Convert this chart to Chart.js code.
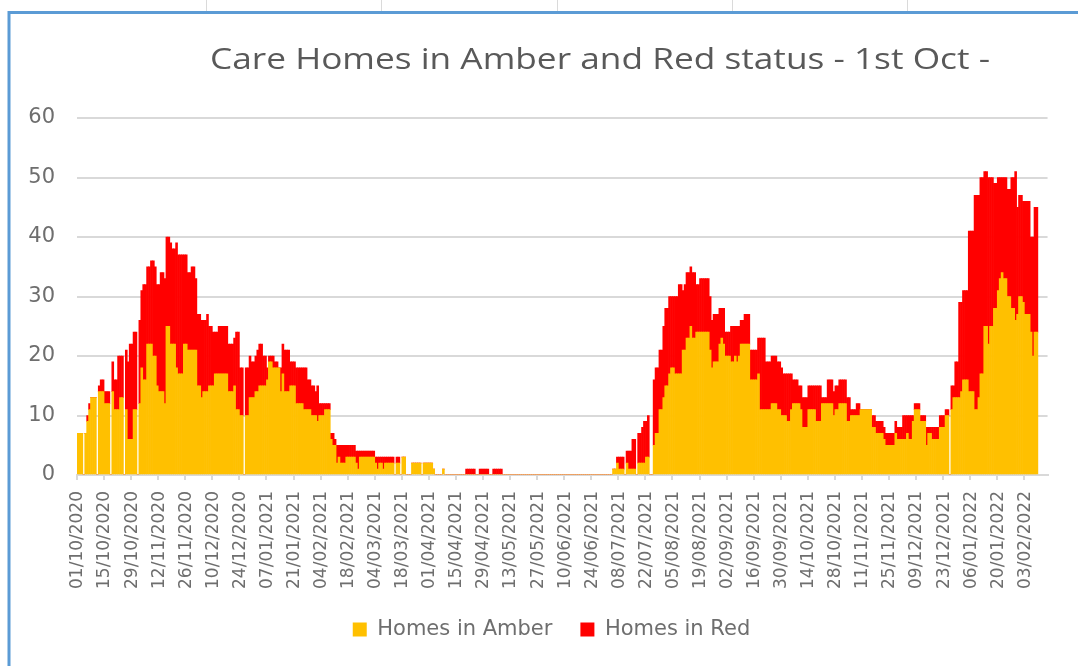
<!DOCTYPE html>
<html lang="en">
<head>
<meta charset="UTF-8">
<title>Care Homes in Amber and Red status</title>
<script src="https://cdn.jsdelivr.net/npm/chart.js"></script>
<style>
  html, body { margin: 0; padding: 0; background: #fff; }
  #box { width: 1078px; height: 666px; position: relative; }
</style>
</head>
<body>
<div id="box"><canvas id="grafico"></canvas></div>
<script>
// one bar per day from 1st Oct 2020
const startDate = Date.UTC(2020, 9, 1)
const totalDays = 502
const chartTitle = 'Care Homes in Amber and Red status - 1st Oct -'

const tickLabels = [
  '01/10/2020', '15/10/2020', '29/10/2020', '12/11/2020', '26/11/2020', '10/12/2020',
  '24/12/2020', '07/01/2021', '21/01/2021', '04/02/2021', '18/02/2021', '04/03/2021',
  '18/03/2021', '01/04/2021', '15/04/2021', '29/04/2021', '13/05/2021', '27/05/2021',
  '10/06/2021', '24/06/2021', '08/07/2021', '22/07/2021', '05/08/2021', '19/08/2021',
  '02/09/2021', '16/09/2021', '30/09/2021', '14/10/2021', '28/10/2021', '11/11/2021',
  '25/11/2021', '09/12/2021', '23/12/2021', '06/01/2022', '20/01/2022', '03/02/2022'
]

const amber = [
  7, 7, 7, 0, 7, 9, 11, 13, 13, 13,
  0, 14, 14, 14, 12, 12, 12, 0, 14, 11,
  11, 11, 13, 13, 0, 11, 6, 6, 6, 11,
  11, 0, 12, 18, 16, 16, 22, 22, 22, 20,
  20, 15, 14, 14, 14, 12, 25, 25, 22, 22,
  22, 18, 17, 17, 17, 22, 22, 21, 21, 21,
  21, 21, 15, 15, 13, 14, 14, 14, 15, 15,
  15, 17, 17, 17, 17, 17, 17, 17, 14, 14,
  14, 15, 11, 11, 10, 10, 0, 10, 10, 13,
  13, 13, 14, 14, 15, 15, 15, 15, 16, 19,
  19, 18, 18, 18, 18, 14, 17, 14, 14, 14,
  15, 15, 15, 12, 12, 12, 12, 11, 11, 11,
  11, 10, 10, 10, 9, 10, 10, 10, 11, 11,
  11, 6, 5, 5, 2, 3, 2, 2, 2, 3,
  3, 3, 3, 3, 2, 1, 3, 3, 3, 3,
  3, 3, 3, 3, 2, 1, 2, 2, 1, 2,
  2, 2, 2, 2, 0, 2, 2, 0, 3, 3,
  0, 0, 0, 2, 2, 2, 2, 2, 0, 2,
  2, 2, 2, 2, 1, 0, 0, 0, 0, 1,
  0, 0, 0, 0, 0, 0, 0, 0, 0, 0,
  0, 0, 0, 0, 0, 0, 0, 0, 0, 0,
  0, 0, 0, 0, 0, 0, 0, 0, 0, 0,
  0, 0, 0, 0, 0, 0, 0, 0, 0, 0,
  0, 0, 0, 0, 0, 0, 0, 0, 0, 0,
  0, 0, 0, 0, 0, 0, 0, 0, 0, 0,
  0, 0, 0, 0, 0, 0, 0, 0, 0, 0,
  0, 0, 0, 0, 0, 0, 0, 0, 0, 0,
  0, 0, 0, 0, 0, 0, 0, 1, 1, 2,
  1, 1, 1, 0, 2, 1, 1, 1, 1, 0,
  2, 2, 2, 2, 3, 3, 0, 0, 5, 7,
  7, 11, 11, 13, 15, 15, 17, 18, 18, 17,
  17, 17, 17, 21, 21, 23, 23, 25, 23, 23,
  24, 24, 24, 24, 24, 24, 24, 21, 18, 19,
  19, 19, 22, 23, 22, 20, 20, 20, 19, 19,
  20, 19, 20, 22, 22, 22, 22, 22, 16, 16,
  16, 16, 17, 11, 11, 11, 11, 11, 11, 12,
  12, 12, 11, 11, 10, 10, 10, 9, 9, 11,
  12, 12, 12, 12, 11, 8, 8, 8, 11, 11,
  11, 11, 9, 9, 9, 12, 12, 12, 12, 12,
  12, 10, 11, 11, 12, 12, 12, 12, 9, 9,
  10, 10, 10, 10, 10, 11, 11, 11, 11, 11,
  11, 8, 8, 7, 7, 7, 7, 6, 5, 5,
  5, 5, 5, 7, 6, 6, 6, 6, 6, 7,
  6, 6, 9, 11, 11, 11, 9, 9, 9, 5,
  7, 7, 6, 6, 6, 6, 8, 8, 8, 10,
  10, 0, 11, 13, 13, 13, 13, 14, 16, 16,
  16, 14, 14, 14, 11, 11, 13, 17, 17, 25,
  25, 22, 25, 25, 28, 28, 31, 33, 34, 33,
  33, 30, 30, 28, 28, 26, 27, 30, 30, 29,
  27, 27, 27, 24, 20, 24, 24
]

const red = [
  0, 0, 0, 0, 0, 1, 1, 0, 0, 0,
  0, 1, 2, 2, 2, 2, 2, 0, 5, 5,
  5, 9, 7, 7, 0, 10, 13, 16, 16, 13,
  13, 0, 14, 13, 16, 16, 13, 13, 14, 16,
  15, 17, 18, 20, 20, 21, 15, 15, 17, 16,
  16, 21, 20, 20, 20, 15, 15, 13, 13, 14,
  14, 12, 12, 12, 13, 12, 12, 13, 10, 10,
  9, 7, 7, 8, 8, 8, 8, 8, 8, 8,
  8, 8, 13, 13, 8, 8, 0, 8, 8, 7,
  6, 6, 6, 7, 7, 7, 5, 5, 2, 1,
  1, 2, 1, 1, 0, 4, 5, 7, 7, 7,
  4, 4, 4, 6, 6, 6, 6, 7, 7, 5,
  5, 5, 5, 4, 6, 2, 2, 2, 1, 1,
  1, 1, 2, 1, 3, 2, 3, 3, 3, 2,
  2, 2, 2, 2, 2, 3, 1, 1, 1, 1,
  1, 1, 1, 1, 1, 2, 1, 1, 2, 1,
  1, 1, 1, 1, 0, 1, 1, 0, 0, 0,
  0, 0, 0, 0, 0, 0, 0, 0, 0, 0,
  0, 0, 0, 0, 0, 0, 0, 0, 0, 0,
  0, 0, 0, 0, 0, 0, 0, 0, 0, 0,
  0, 1, 1, 1, 1, 1, 0, 0, 1, 1,
  1, 1, 1, 0, 0, 1, 1, 1, 1, 1,
  0, 0, 0, 0, 0, 0, 0, 0, 0, 0,
  0, 0, 0, 0, 0, 0, 0, 0, 0, 0,
  0, 0, 0, 0, 0, 0, 0, 0, 0, 0,
  0, 0, 0, 0, 0, 0, 0, 0, 0, 0,
  0, 0, 0, 0, 0, 0, 0, 0, 0, 0,
  0, 0, 0, 0, 0, 0, 0, 0, 0, 1,
  2, 2, 2, 0, 2, 3, 3, 5, 5, 0,
  5, 5, 6, 7, 6, 7, 0, 0, 11, 11,
  11, 10, 10, 12, 13, 13, 13, 12, 12, 13,
  13, 15, 15, 10, 11, 11, 11, 10, 11, 11,
  8, 8, 9, 9, 9, 9, 9, 9, 8, 8,
  8, 8, 6, 5, 6, 4, 4, 4, 6, 6,
  5, 6, 5, 4, 4, 5, 5, 5, 5, 5,
  5, 5, 6, 12, 12, 12, 8, 8, 8, 8,
  8, 8, 8, 8, 8, 7, 7, 8, 8, 6,
  4, 4, 4, 3, 4, 5, 5, 5, 4, 4,
  4, 4, 6, 6, 6, 1, 1, 1, 4, 4,
  4, 4, 4, 4, 4, 4, 4, 4, 4, 4,
  1, 1, 1, 2, 2, 0, 0, 0, 0, 0,
  0, 2, 2, 2, 2, 2, 2, 2, 2, 2,
  2, 2, 2, 2, 2, 2, 2, 4, 4, 3,
  4, 4, 1, 1, 1, 1, 1, 1, 1, 3,
  1, 1, 2, 2, 2, 2, 2, 2, 2, 1,
  1, 0, 4, 2, 6, 6, 16, 15, 15, 15,
  15, 27, 27, 27, 36, 36, 34, 33, 33, 26,
  26, 28, 25, 25, 21, 21, 19, 17, 16, 17,
  17, 18, 18, 22, 22, 25, 18, 17, 17, 17,
  19, 19, 19, 16, 20, 21, 21
]

const twoDigits = n => String(n).padStart(2, '0')
const days = []
for (let i = 0; i < totalDays; i++) {
  const d = new Date(startDate + i * 86400000)
  days.push(twoDigits(d.getUTCDate()) + '/' + twoDigits(d.getUTCMonth() + 1) + '/' + d.getUTCFullYear())
}

const textGrey = '#6e6e6e'

// spreadsheet frame + title, drawn around the chart
const frame = {
  id: 'frame',
  afterLayout(chart) {
    // legend sits a little right of the middle in the original
    chart.legend.left += 25
    chart.legend.right += 25
  },
  beforeDraw(chart) {
    const c = chart.ctx
    c.save()
    c.fillStyle = '#ffffff'
    c.fillRect(0, 0, chart.width, chart.height)
    c.strokeStyle = '#dadada'
    c.lineWidth = 1
    ;[206, 381, 557, 732, 907].forEach(x => {
      c.beginPath(); c.moveTo(x + 0.5, 0); c.lineTo(x + 0.5, 11); c.stroke()
    })
    c.strokeStyle = '#5b9bd5'
    c.lineWidth = 3
    c.beginPath()
    c.moveTo(9, chart.height)
    c.lineTo(9, 12.5)
    c.lineTo(chart.width, 12.5)
    c.stroke()
    c.restore()
  },
  afterDraw(chart) {
    const c = chart.ctx
    c.save()
    c.font = '30px "Open Sans"'
    c.fillStyle = '#595959'
    c.textAlign = 'center'
    c.textBaseline = 'alphabetic'
    const w = c.measureText(chartTitle).width
    c.translate(600, 69)
    c.scale(780 / w, 1)
    c.fillText(chartTitle, 0, 0)
    c.restore()
  }
}

const ctx = document.getElementById('grafico')

new Chart(ctx, {
  type: 'bar',
  data: {
    labels: days,
    datasets: [
      {
        label: 'Homes in Amber',
        data: amber,
        backgroundColor: '#FFC000',
        borderWidth: 0,
        barPercentage: 1,
        categoryPercentage: 1
      },
      {
        label: 'Homes in Red',
        data: red,
        backgroundColor: '#FF0000',
        borderWidth: 0,
        barPercentage: 1,
        categoryPercentage: 1
      }
    ]
  },
  options: {
    responsive: true,
    maintainAspectRatio: false,
    animation: false,
    layout: { padding: { top: 118, right: 25, bottom: 16, left: 0 } },
    plugins: {
      title: { display: false },
      tooltip: { enabled: false },
      legend: {
        position: 'bottom',
        labels: {
          boxWidth: 14,
          boxHeight: 14,
          padding: 28,
          color: textGrey,
          font: { family: 'DejaVu Sans', size: 21 }
        }
      }
    },
    scales: {
      x: {
        stacked: true,
        grid: {
          drawOnChartArea: false,
          tickLength: 5,
          lineWidth: 2,
          color: c => c.index % 14 === 0 ? '#d9d9d9' : 'rgba(0,0,0,0)'
        },
        border: { display: true, color: '#d9d9d9', width: 2 },
        ticks: {
          autoSkip: false,
          minRotation: 90,
          maxRotation: 90,
          padding: 11,
          color: textGrey,
          font: { family: 'DejaVu Sans', size: 17 },
          callback: (v, i) => i % 14 === 0 ? tickLabels[i / 14] : ''
        },
        afterFit: s => { s.height = 116 }
      },
      y: {
        stacked: true,
        min: 0,
        max: 60,
        grid: { color: '#d9d9d9', lineWidth: 2, drawTicks: false },
        border: { display: false },
        ticks: {
          stepSize: 10,
          padding: 22,
          color: textGrey,
          font: { family: 'DejaVu Sans', size: 21 }
        },
        afterFit: s => { s.width = 77 }
      }
    }
  },
  plugins: [frame]
})
</script>
</body>
</html>
